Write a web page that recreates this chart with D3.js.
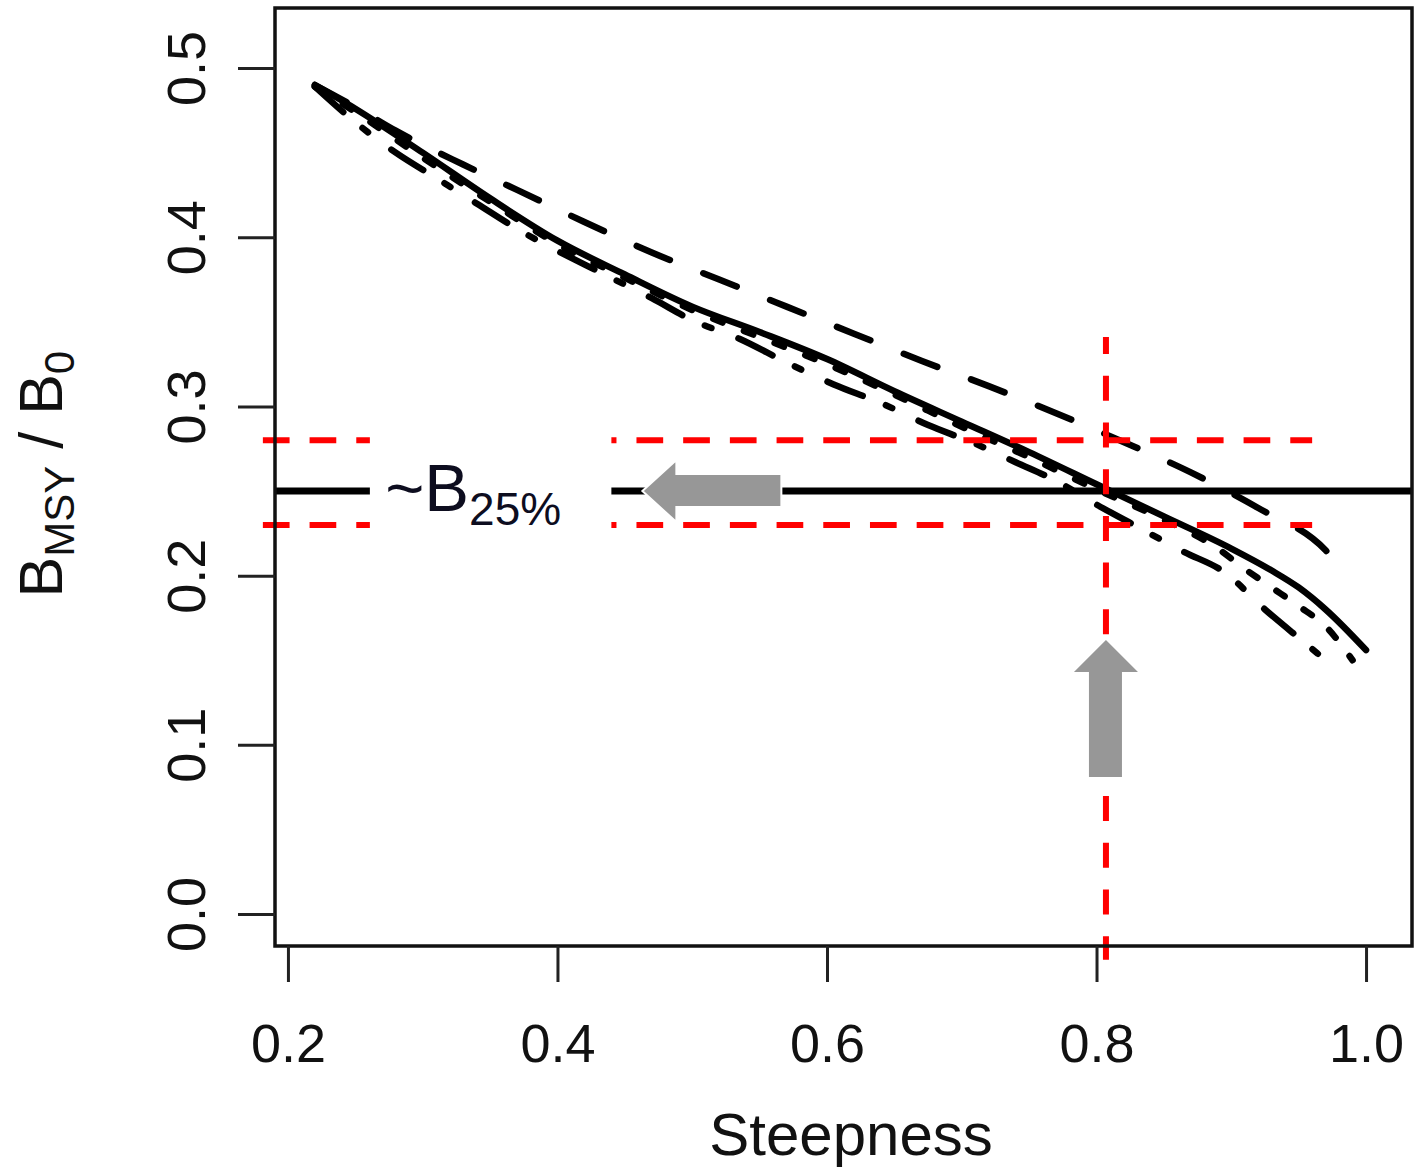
<!DOCTYPE html>
<html>
<head>
<meta charset="utf-8">
<script src="https://cdn.jsdelivr.net/npm/d3@7"></script>
<style>
  body { margin: 0; background: #fff; }
  text { font-family: "Liberation Sans", Arial, sans-serif; }
</style>
</head>
<body>
<div id="chart"></div>
<script>
// steepness (h) vs BMSY/B0 for four model runs
const hSolid = [0.22, 0.25, 0.30, 0.35, 0.40, 0.45, 0.50, 0.55, 0.60, 0.65, 0.70, 0.75, 0.80, 0.85, 0.90, 0.93, 0.95, 0.97, 1.00];
const bSolid = [0.490, 0.476, 0.450, 0.423, 0.398, 0.378, 0.359, 0.344, 0.328, 0.309, 0.291, 0.273, 0.254, 0.235, 0.216, 0.203, 0.193, 0.180, 0.156];

const hDash = [0.22, 0.25, 0.28, 0.33, 0.37, 0.42, 0.47, 0.52, 0.57, 0.62, 0.67, 0.72, 0.77, 0.82, 0.87, 0.92, 0.97, 0.98];
const bDash = [0.490, 0.477, 0.463, 0.443, 0.428, 0.409, 0.391, 0.375, 0.359, 0.343, 0.327, 0.312, 0.296, 0.279, 0.261, 0.240, 0.215, 0.206];

const hDot = [0.22, 0.25, 0.30, 0.35, 0.40, 0.45, 0.50, 0.55, 0.60, 0.65, 0.70, 0.75, 0.80, 0.85, 0.89, 0.91, 0.93, 0.95, 0.97, 0.99];
const bDot = [0.489, 0.474, 0.447, 0.421, 0.396, 0.376, 0.357, 0.341, 0.325, 0.307, 0.288, 0.270, 0.251, 0.233, 0.216, 0.204, 0.193, 0.182, 0.170, 0.150];

const hDashDot = [0.22, 0.25, 0.28, 0.31, 0.34, 0.37, 0.44, 0.47, 0.50, 0.535, 0.57, 0.605, 0.64, 0.675, 0.71, 0.74, 0.77, 0.80, 0.83, 0.865, 0.895, 0.925, 0.955, 0.97];
const bDashDot = [0.489, 0.468, 0.450, 0.435, 0.420, 0.405, 0.376, 0.364, 0.351, 0.340, 0.326, 0.313, 0.302, 0.289, 0.278, 0.267, 0.256, 0.242, 0.229, 0.214, 0.202, 0.180, 0.160, 0.150];

const xTicks = [0.2, 0.4, 0.6, 0.8, 1.0];
const yTicks = [0.0, 0.1, 0.2, 0.3, 0.4, 0.5];

// reference lines
const b25 = 0.25;
const bBand = [0.23, 0.28];
const hRef = 0.807;

const width = 1422;
const height = 1171;
const box = {left: 275, right: 1412, top: 8, bottom: 946};

const svg = d3.select('#chart').append('svg')
    .attr('width', width)
    .attr('height', height);

const x = d3.scaleLinear()
    .domain([0.1904, 1.0341])
    .range([box.left, box.right]);

const y = d3.scaleLinear()
    .domain([-0.0189, 0.5355])
    .range([box.bottom, box.top]);

const line = d3.line()
    .x(d => x(d[0]))
    .y(d => y(d[1]))
    .curve(d3.curveMonotoneX);

const series = [
  {h: hSolid, b: bSolid, dash: null},
  {h: hDash, b: bDash, dash: '36,36'},
  {h: hDot, b: bDot, dash: '10,23'},
  {h: hDashDot, b: bDashDot, dash: '38,25,7,29'}
];

svg.append('g')
  .selectAll('path')
  .data(series)
  .join('path')
    .attr('d', s => line(d3.zip(s.h, s.b)))
    .attr('fill', 'none')
    .attr('stroke', '#000')
    .attr('stroke-width', 6.5)
    .attr('stroke-linecap', 'round')
    .attr('stroke-linejoin', 'round')
    .attr('stroke-dasharray', s => s.dash);

// horizontal B25% line and the red band
svg.append('line')
    .attr('x1', box.left).attr('x2', box.right)
    .attr('y1', y(b25)).attr('y2', y(b25))
    .attr('stroke', '#000')
    .attr('stroke-width', 7);

svg.append('g')
  .selectAll('line')
  .data(bBand)
  .join('line')
    .attr('x1', x(0.1814)).attr('x2', x(0.96))
    .attr('y1', d => y(d)).attr('y2', d => y(d))
    .attr('stroke', '#ff0000')
    .attr('stroke-width', 6)
    .attr('stroke-dasharray', '26.7,20');

svg.append('line')
    .attr('x1', x(hRef)).attr('x2', x(hRef))
    .attr('y1', y(0.341)).attr('y2', y(-0.027))
    .attr('stroke', '#ff0000')
    .attr('stroke-width', 6)
    .attr('stroke-dasharray', '25,21.7')
    .attr('stroke-dashoffset', 8);

// label with white backing
const lx0 = x(0.2608), lx1 = x(0.4400);
svg.append('rect')
    .attr('x', lx0).attr('y', y(0.29))
    .attr('width', lx1 - lx0).attr('height', y(0.22) - y(0.29))
    .attr('fill', '#fff');

const lab = svg.append('text')
    .attr('x', x(0.2722))
    .attr('y', y(b25) + 20)
    .attr('fill', '#0d0d1f')
    .attr('font-size', 67);
lab.append('tspan').text('~B');
lab.append('tspan').attr('font-size', 46).attr('dy', 14).text('25%');

// grey arrows
const arrowFill = '#979797';
const lt = [x(0.4630), y(b25)];
svg.append('path')
    .attr('d', `M${lt[0]},${lt[1]} L${lt[0] + 34},${lt[1] - 31} L${lt[0] + 34},${lt[1] - 17}
      L${lt[0] + 139},${lt[1] - 17} L${lt[0] + 139},${lt[1] + 16} L${lt[0] + 34},${lt[1] + 16}
      L${lt[0] + 34},${lt[1] + 31} Z`)
    .attr('fill', arrowFill)
    .attr('stroke', '#fff')
    .attr('stroke-width', 2);

const ut = [x(hRef), y(0.162)];
svg.append('path')
    .attr('d', `M${ut[0]},${ut[1]} L${ut[0] + 32},${ut[1] + 32} L${ut[0] + 16},${ut[1] + 32}
      L${ut[0] + 16},${ut[1] + 137} L${ut[0] - 17},${ut[1] + 137} L${ut[0] - 17},${ut[1] + 32}
      L${ut[0] - 32},${ut[1] + 32} Z`)
    .attr('fill', arrowFill);

// box
svg.append('rect')
    .attr('x', box.left).attr('y', box.top)
    .attr('width', box.right - box.left).attr('height', box.bottom - box.top)
    .attr('fill', 'none')
    .attr('stroke', '#111')
    .attr('stroke-width', 3.5);

// axes
svg.append('g')
    .attr('transform', `translate(0,${box.bottom})`)
    .call(d3.axisBottom(x).tickValues(xTicks).tickSize(36).tickFormat(d3.format('.1f')))
    .call(g => g.select('.domain').remove())
    .call(g => g.selectAll('.tick line').attr('stroke', '#222').attr('stroke-width', 3))
    .call(g => g.selectAll('.tick text')
      .attr('font-size', 54)
      .attr('fill', '#111')
      .attr('y', 116)
      .attr('dy', 0));

svg.append('g')
    .attr('transform', `translate(${box.left},0)`)
    .call(d3.axisLeft(y).tickValues(yTicks).tickSize(37).tickFormat(d3.format('.1f')))
    .call(g => g.select('.domain').remove())
    .call(g => g.selectAll('.tick line').attr('stroke', '#222').attr('stroke-width', 3))
    .call(g => g.selectAll('.tick text')
      .attr('font-size', 54)
      .attr('fill', '#111')
      .attr('transform', 'rotate(-90)')
      .attr('text-anchor', 'middle')
      .attr('x', 0)
      .attr('y', -70)
      .attr('dy', 0));

// axis titles
svg.append('text')
    .attr('x', 851)
    .attr('y', 1155)
    .attr('text-anchor', 'middle')
    .attr('font-size', 60)
    .attr('fill', '#111')
    .text('Steepness');

const yl = svg.append('text')
    .attr('transform', `translate(62,${y(0.26)}) rotate(-90)`)
    .attr('text-anchor', 'middle')
    .attr('font-size', 61)
    .attr('fill', '#111');
yl.append('tspan').text('B');
yl.append('tspan').attr('font-size', 42).attr('dy', 12).text('MSY');
yl.append('tspan').attr('dy', -12).text(' / B');
yl.append('tspan').attr('font-size', 42).attr('dy', 12).text('0');
</script>
</body>
</html>
